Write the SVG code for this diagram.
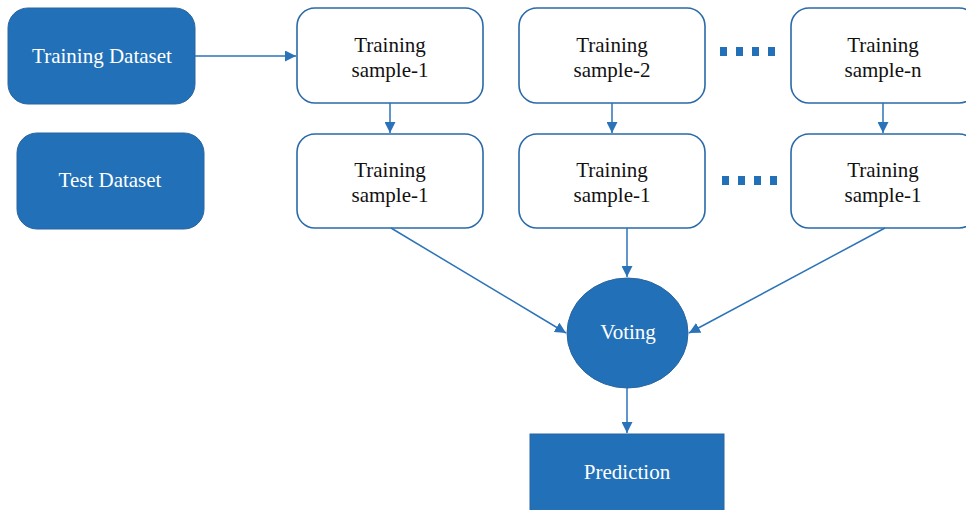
<svg xmlns="http://www.w3.org/2000/svg" width="966" height="510" viewBox="0 0 966 510">
<style>
.blue{fill:#2271b8;stroke:#2a65a0;stroke-width:1}
.box{fill:#fff;stroke:#2a6aa8;stroke-width:1.6}
.t{font-family:"Liberation Serif",serif;font-size:21px;text-anchor:middle}
.w{fill:#fff}
.k{fill:#111}
.c{stroke:#2b73b8;stroke-width:1.5;fill:none}
.dots{stroke:#2271b8;stroke-width:9;stroke-dasharray:7 9;fill:none}
</style>
<defs>
<marker id="ah" viewBox="0 0 10 10" refX="10" refY="5" markerWidth="11" markerHeight="11" markerUnits="userSpaceOnUse" orient="auto">
<path d="M0,0 L10,5 L0,10 z" fill="#2b73b8"/>
</marker>
</defs>
<rect width="966" height="510" fill="#fff"/>
<g id="training-dataset"><rect class="blue" x="8" y="8" width="187" height="96" rx="20"/><text class="t w" x="102" y="63">Training Dataset</text></g>
<g id="test-dataset"><rect class="blue" x="17" y="133" width="187" height="96" rx="20"/><text class="t w" x="110" y="187">Test Dataset</text></g>
<g id="ts1"><rect class="box" x="297" y="8" width="186" height="95" rx="18"/><text class="t k" x="390" y="52">Training</text><text class="t k" x="390" y="77">sample-1</text></g>
<g id="ts2"><rect class="box" x="519" y="8" width="186" height="95" rx="18"/><text class="t k" x="612" y="52">Training</text><text class="t k" x="612" y="77">sample-2</text></g>
<g id="tsn"><rect class="box" x="791" y="8" width="186" height="95" rx="18"/><text class="t k" x="883" y="52">Training</text><text class="t k" x="883" y="77">sample-n</text></g>
<g id="bs1"><rect class="box" x="297" y="134" width="186" height="94" rx="18"/><text class="t k" x="390" y="177">Training</text><text class="t k" x="390" y="202">sample-1</text></g>
<g id="bs2"><rect class="box" x="519" y="134" width="186" height="94" rx="18"/><text class="t k" x="612" y="177">Training</text><text class="t k" x="612" y="202">sample-1</text></g>
<g id="bs3"><rect class="box" x="791" y="134" width="186" height="94" rx="18"/><text class="t k" x="883" y="177">Training</text><text class="t k" x="883" y="202">sample-1</text></g>
<g id="dots1"><path class="dots" d="M720,51.5 H778"/></g>
<g id="dots2"><path class="dots" d="M722,180.5 H780"/></g>
<g id="voting"><ellipse class="blue" cx="627.5" cy="333" rx="60.5" ry="55"/><text class="t w" x="628" y="339">Voting</text></g>
<g id="prediction"><rect class="blue" x="530" y="434" width="194" height="80"/><text class="t w" x="627" y="479">Prediction</text></g>
<g id="connectors">
<line class="c" x1="195" y1="56" x2="296" y2="56" marker-end="url(#ah)"/>
<line class="c" x1="390" y1="103" x2="390" y2="133" marker-end="url(#ah)"/>
<line class="c" x1="612" y1="103" x2="612" y2="133" marker-end="url(#ah)"/>
<line class="c" x1="883" y1="103" x2="883" y2="133" marker-end="url(#ah)"/>
<line class="c" x1="627" y1="228" x2="627" y2="277" marker-end="url(#ah)"/>
<line class="c" x1="391" y1="228" x2="566" y2="333" marker-end="url(#ah)"/>
<line class="c" x1="885" y1="228" x2="689" y2="333" marker-end="url(#ah)"/>
<line class="c" x1="627" y1="388" x2="627" y2="433" marker-end="url(#ah)"/>
</g>
</svg>
